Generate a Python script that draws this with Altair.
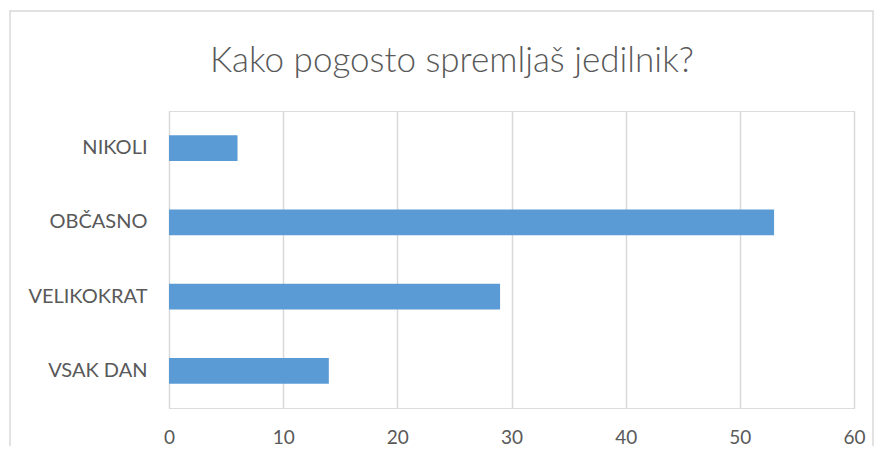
import altair as alt
import pandas as pd

title_text = "Kako pogosto spremljaš jedilnik?"
categories = ["NIKOLI", "OBČASNO", "VELIKOKRAT", "VSAK DAN"]
values = [6, 53, 29, 14]
x_ticks = [0, 10, 20, 30, 40, 50, 60]

df = pd.DataFrame({"cat": categories, "val": values})

FONT = "Lato"
TXT = "#595959"
GRID = "#D9D9D9"
W, H = 685, 297

bars = alt.Chart(df).mark_bar(color="#5B9BD5").encode(
    x=alt.X("val:Q", scale=alt.Scale(domain=[0, 60], nice=False),
            axis=alt.Axis(values=x_ticks, title=None, domain=False, ticks=False,
                          grid=True, gridColor=GRID, gridWidth=1.5,
                          labelFlush=False, labelOverlap=False,
                          labelFont=FONT, labelFontSize=19, labelColor=TXT,
                          labelPadding=20)),
    y=alt.Y("cat:N", sort=categories,
            scale=alt.Scale(paddingInner=0.65, paddingOuter=0.325),
            axis=alt.Axis(title=None, domain=False, ticks=False, grid=False,
                          labelFont=FONT, labelFontSize=20, labelColor=TXT,
                          labelPadding=22)),
)

border = alt.Chart(pd.DataFrame({"a": [0]})).mark_rect(
    fill=None, stroke=GRID, strokeWidth=1.5
).encode(
    x=alt.value(-159), x2=alt.value(704),
    y=alt.value(-100), y2=alt.value(400),
)

title = alt.Chart(pd.DataFrame({"t": [title_text]})).mark_text(
    font=FONT, fontSize=35, fontWeight=300, color=TXT, align="center", baseline="alphabetic"
).encode(
    text="t:N", x=alt.value(283), y=alt.value(-39),
)

chart = alt.layer(border, bars, title).properties(
    width=W, height=H,
    autosize=alt.AutoSizeParams(type="none"),
    padding={"left": 161, "top": 103, "right": 21, "bottom": 38},
).configure_view(stroke=None).configure(background="white")

chart.save("out.html", embed_options={"renderer": "svg", "actions": False})
